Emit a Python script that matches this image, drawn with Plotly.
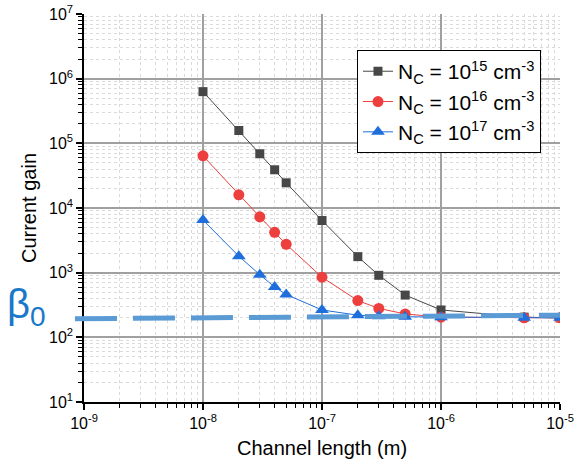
import plotly.graph_objects as go

# ---- data ----
channel_length = [1e-8, 2e-8, 3e-8, 4e-8, 5e-8, 1e-7, 2e-7, 3e-7, 5e-7, 1e-6, 5e-6, 1e-5]
gain_nc15 = [6.3e5, 1.58e5, 6.9e4, 3.9e4, 2.45e4, 6.4e3, 1.77e3, 910, 450, 265, 205, 200]
gain_nc16 = [6.4e4, 1.6e4, 7.3e3, 4.2e3, 2.75e3, 850, 370, 280, 230, 205, 200, 200]
gain_nc17 = [6.5e3, 1.8e3, 930, 600, 460, 265, 220, 212, 208, 205, 200, 200]
series_names = ["N<sub>C</sub> = 10<sup>15</sup> cm<sup>-3</sup>",
                "N<sub>C</sub> = 10<sup>16</sup> cm<sup>-3</sup>",
                "N<sub>C</sub> = 10<sup>17</sup> cm<sup>-3</sup>"]
beta0_y = [194, 220]

x_tickvals = [1e-9, 1e-8, 1e-7, 1e-6, 1e-5]
x_ticktext = ["10<sup>-9</sup>", "10<sup>-8</sup>", "10<sup>-7</sup>", "10<sup>-6</sup>", "10<sup>-5</sup>"]
y_tickvals = [1e1, 1e2, 1e3, 1e4, 1e5, 1e6, 1e7]
y_ticktext = ["10<sup>1</sup>", "10<sup>2</sup>", "10<sup>3</sup>", "10<sup>4</sup>",
              "10<sup>5</sup>", "10<sup>6</sup>", "10<sup>7</sup>"]

x_minor = [m * 10 ** e for e in range(-9, -5) for m in range(2, 10)]
y_minor = [m * 10 ** e for e in range(1, 7) for m in range(2, 10)]

FONT = "Liberation Sans, Arial, sans-serif"

fig = go.Figure()
styles = [
    dict(color="#474747", symbol="square", size=9),
    dict(color="#EE3F3F", symbol="circle", size=11),
    dict(color="#1E6FDC", symbol="triangle-up", size=12),
]
for ys, name, st in zip([gain_nc15, gain_nc16, gain_nc17], series_names, styles):
    fig.add_trace(go.Scatter(
        x=channel_length, y=ys, mode="lines+markers", name=name,
        line=dict(color=st["color"], width=1),
        marker=dict(color=st["color"], symbol=st["symbol"], size=st["size"]),
    ))

# beta0 reference line (dashed), extends slightly left of the y axis
fig.add_shape(
    type="line", xref="paper", yref="y",
    x0=-0.019, x1=1.0, y0=beta0_y[0], y1=beta0_y[1],
    line=dict(color="#5B9BD5", width=5, dash="42px,16px"),
    layer="above",
)

grid_major = "#a0a0a0"
grid_minor = "#dadada"

fig.update_layout(
    width=574, height=467,
    margin=dict(l=84, r=14, t=14, b=65),
    paper_bgcolor="white", plot_bgcolor="white",
    font=dict(family=FONT, color="black", size=16),
    legend=dict(
        x=0.5735, y=0.907, xanchor="left", yanchor="top",
        bordercolor="black", borderwidth=1, bgcolor="white",
        font=dict(size=21, family=FONT),
        tracegroupgap=0,
    ),
    xaxis=dict(
        type="log", range=[-9, -5], automargin=False,
        tickmode="array", tickvals=x_tickvals, ticktext=x_ticktext,
        showline=True, linecolor="black", linewidth=1.5,
        ticks="outside", ticklen=6, tickcolor="black", tickwidth=1.5,
        showgrid=True, gridcolor=grid_major, gridwidth=1.5,
        zeroline=False,
        title=dict(text="Channel length (m)", font=dict(size=20), standoff=10),
        tickfont=dict(size=16),
        minor=dict(tickmode="array", tickvals=x_minor, ticks="outside", ticklen=4,
                   tickcolor="black", tickwidth=1, showgrid=True,
                   gridcolor=grid_minor, griddash="dot", gridwidth=1),
    ),
    yaxis=dict(
        type="log", range=[1, 7], automargin=False,
        tickmode="array", tickvals=y_tickvals, ticktext=y_ticktext,
        showline=True, linecolor="black", linewidth=1.5,
        ticks="outside", ticklen=6, tickcolor="black", tickwidth=1.5,
        showgrid=True, gridcolor=grid_major, gridwidth=1.5,
        zeroline=False,
        title=dict(text="Current gain", font=dict(size=20), standoff=7),
        tickfont=dict(size=16),
        minor=dict(tickmode="array", tickvals=y_minor, ticks="outside", ticklen=4,
                   tickcolor="black", tickwidth=1, showgrid=True,
                   gridcolor=grid_minor, griddash="dot", gridwidth=1),
    ),
)

fig.add_annotation(
    text="β<sub>0</sub>", xref="paper", yref="paper",
    x=-0.12, y=0.245, xanchor="center", yanchor="middle",
    showarrow=False, font=dict(size=40, color="#1A78C8", family=FONT),
)

fig.write_html("out.html", config={"displayModeBar": False},
               post_script="document.body.style.margin='0px';")
